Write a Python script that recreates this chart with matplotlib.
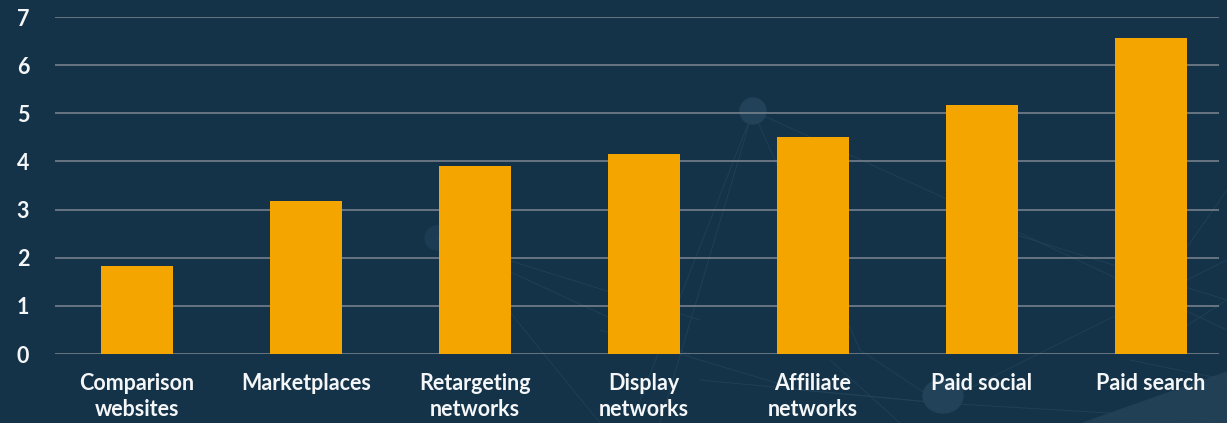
import matplotlib
matplotlib.use("Agg")
import matplotlib.pyplot as plt
from matplotlib.patches import Circle, Ellipse, Polygon
from matplotlib.lines import Line2D

# Channel data
categories = ["Comparison\nwebsites", "Marketplaces", "Retargeting\nnetworks",
              "Display\nnetworks", "Affiliate\nnetworks", "Paid social", "Paid search"]
values = [1.83, 3.18, 3.91, 4.16, 4.51, 5.18, 6.57]
yticks = [0, 1, 2, 3, 4, 5, 6, 7]

BG = "#143349"
BAR = "#f5a500"
GRID = "#7d8790"
TEXT = "#f4f6f8"

W, H = 1227, 423
fig = plt.figure(figsize=(W / 100, H / 100), dpi=100, facecolor=BG)

# Faint network decoration behind the chart (figure pixel coords, origin top-left)
deco = fig.add_axes([0, 0, 1, 1], zorder=0)
deco.set_xlim(0, W)
deco.set_ylim(H, 0)
deco.axis("off")
deco.set_facecolor(BG)
net_col = "#24445a"
segments = [
    ((753, 111), (640, 400)), ((753, 111), (660, 423)), ((753, 111), (860, 350)),
    ((753, 111), (960, 205)), ((960, 205), (1227, 330)),
    ((437, 238), (700, 320)), ((437, 238), (690, 355)), ((500, 300), (600, 423)),
    ((600, 330), (800, 390)), ((800, 390), (940, 403)), ((940, 403), (1227, 260)),
    ((940, 403), (1227, 420)), ((1180, 330), (1227, 300)), ((1000, 230), (1227, 300)),
    ((830, 360), (900, 423)), ((700, 380), (940, 403)), ((1130, 360), (1227, 380)),
    ((1227, 190), (1150, 300)), ((860, 350), (940, 403)),
]
for (x0, y0), (x1, y1) in segments:
    deco.add_line(Line2D([x0, x1], [y0, y1], color=net_col, lw=0.7, alpha=0.7))
deco.add_patch(Circle((753, 111), 13, color="#22425a"))
deco.add_patch(Circle((437, 238), 12, color="#1c3c53"))
deco.add_patch(Ellipse((943, 396), 40, 34, color="#22425a"))
deco.add_patch(Polygon([(1083, 423), (1227, 372), (1227, 423)], closed=True,
                       color="#213f55"))

# Bar chart
ax = fig.add_axes([55 / W, 69 / H, (1219 - 55) / W, (354 - 17) / H], zorder=1)
ax.patch.set_alpha(0)
x = list(range(len(categories)))
ax.bar(x, values, width=0.426, color=BAR, zorder=3)

ax.set_xlim(-0.485, 6.402)
ax.set_ylim(0, 7)
ax.set_yticks(yticks)
ax.set_yticklabels([str(t) for t in yticks])
ax.set_xticks(x)
ax.set_xticklabels(categories, linespacing=1.25)

ax.grid(axis="y", color=GRID, lw=1.1, zorder=1)
ax.grid(axis="x", visible=False)
for s in ax.spines.values():
    s.set_visible(False)

ax.tick_params(axis="both", length=0, colors=TEXT)
ax.tick_params(axis="y", pad=23)
ax.tick_params(axis="x", pad=14)
for lab in ax.get_yticklabels() + ax.get_xticklabels():
    lab.set_fontfamily("Lato")
    lab.set_fontweight("bold")
    lab.set_fontsize(15.5)
    lab.set_color(TEXT)
for lab in ax.get_yticklabels():
    lab.set_horizontalalignment("center")

fig.savefig("out.png", dpi=100, facecolor=BG)
